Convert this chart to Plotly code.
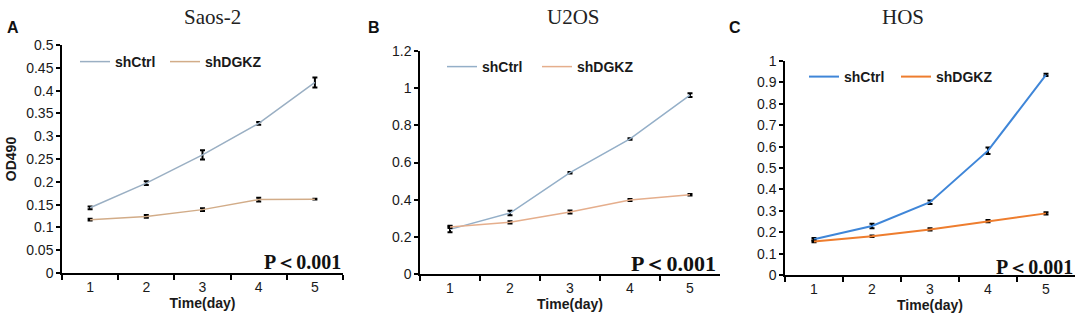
import plotly.graph_objects as go

days = ["1", "2", "3", "4", "5"]

saos_ctrl = [0.143, 0.197, 0.259, 0.328, 0.418]
saos_ctrl_err = [0.003, 0.004, 0.010, 0.003, 0.011]
saos_dgkz = [0.117, 0.124, 0.139, 0.161, 0.162]
saos_dgkz_err = [0.002, 0.003, 0.003, 0.004, 0.001]

u2os_ctrl = [0.240, 0.328, 0.545, 0.727, 0.963]
u2os_ctrl_err = [0.015, 0.012, 0.004, 0.004, 0.010]
u2os_dgkz = [0.253, 0.278, 0.334, 0.398, 0.427]
u2os_dgkz_err = [0.006, 0.006, 0.008, 0.005, 0.004]

hos_ctrl = [0.167, 0.229, 0.340, 0.581, 0.935]
hos_ctrl_err = [0.006, 0.010, 0.008, 0.015, 0.005]
hos_dgkz = [0.157, 0.181, 0.213, 0.252, 0.288]
hos_dgkz_err = [0.004, 0.004, 0.005, 0.005, 0.005]

titles = ["Saos-2", "U2OS", "HOS"]
letters = ["A", "B", "C"]
series_names = ["shCtrl", "shDGKZ"]

SANS = "Arial, Liberation Sans, sans-serif"
SERIF = "Times New Roman, Liberation Serif, serif"

panels = [
    dict(ctrl=saos_ctrl, ctrl_err=saos_ctrl_err, dgkz=saos_dgkz, dgkz_err=saos_dgkz_err,
         colors=("#9AAFC3", "#D2AC88"), lw=1.5, xdom=(62, 343), ybot=273, ytop=45,
         yrange=(0, 0.5), dtick=0.05),
    dict(ctrl=u2os_ctrl, ctrl_err=u2os_ctrl_err, dgkz=u2os_dgkz, dgkz_err=u2os_dgkz_err,
         colors=("#94AFC8", "#E5AE8C"), lw=1.5, xdom=(420, 720), ybot=274, ytop=51,
         yrange=(0, 1.2), dtick=0.2),
    dict(ctrl=hos_ctrl, ctrl_err=hos_ctrl_err, dgkz=hos_dgkz, dgkz_err=hos_dgkz_err,
         colors=("#3F86D8", "#EE7D2E"), lw=2, xdom=(785, 1075), ybot=275, ytop=61,
         yrange=(0, 1.0), dtick=0.1),
]

W, H = 1084, 324
fig = go.Figure()
annotations = []
# one legend per series: (left x, centre y) in pixels
legend_pos = [[(75, 62), (165, 62)], [(442, 67), (537, 67)], [(804, 77), (896, 77)]]
p_pos = [(343, 262, 20), (718, 263, 22), (1075, 267, 20)]

leg_idx = 0
for i, p in enumerate(panels):
    sfx = "" if i == 0 else str(i + 1)
    xa, ya = "x" + sfx, "y" + sfx
    for j, (name, vals, errs, col) in enumerate([
        (series_names[0], p["ctrl"], p["ctrl_err"], p["colors"][0]),
        (series_names[1], p["dgkz"], p["dgkz_err"], p["colors"][1]),
    ]):
        leg_idx += 1
        leg = "legend" if leg_idx == 1 else "legend" + str(leg_idx)
        fig.add_trace(go.Scatter(
            x=days, y=vals, mode="lines", name=name, xaxis=xa, yaxis=ya,
            line=dict(color=col, width=p["lw"]), legend=leg, showlegend=True,
            error_y=dict(type="data", array=errs, color="black", thickness=2, width=2.5),
        ))
        lx, ly = legend_pos[i][j]
        fig.update_layout(**{leg: dict(
            orientation="h", x=lx / W, y=1 - ly / H,
            xanchor="left", yanchor="middle", bgcolor="rgba(0,0,0,0)",
            font=dict(family=SANS, size=14, color="#1a1a1a", weight="bold"),
        )})
    x0, x1 = p["xdom"]
    fig.update_layout(**{
        "xaxis" + sfx: dict(
            domain=[x0 / W, x1 / W], anchor=ya, type="category", range=[-0.5, 4.5],
            tickson="boundaries", ticks="outside", ticklen=5, tickwidth=1.5, tickcolor="black",
            showline=True, linecolor="black", linewidth=1.5, showgrid=False, zeroline=False,
            automargin=False,
            tickfont=dict(family=SANS, size=14, color="#1a1a1a"),
            title=dict(text="<b>Time(day)</b>", font=dict(family=SANS, size=14, color="#1a1a1a"),
                       standoff=3),
        ),
        "yaxis" + sfx: dict(
            domain=[1 - p["ybot"] / H, 1 - p["ytop"] / H], anchor=xa, range=list(p["yrange"]),
            dtick=p["dtick"], tick0=0, ticks="outside", ticklen=4, tickwidth=1.5, tickcolor="black",
            showline=True, linecolor="black", linewidth=1.5, showgrid=False, zeroline=False,
            automargin=False,
            tickfont=dict(family=SANS, size=14, color="#1a1a1a"),
        ),
    })
    annotations.append(dict(text=titles[i], x=[212, 573, 903][i] / W, y=1 - 17 / H, xref="paper", yref="paper",
                            showarrow=False, font=dict(family=SERIF, size=21, color="#222"),
                            xanchor="center", yanchor="middle"))
    annotations.append(dict(text="<b>" + letters[i] + "</b>", x=[5, 366, 727][i] / W, y=1 - 28 / H,
                            xref="paper", yref="paper", showarrow=False,
                            font=dict(family=SANS, size=16, color="#111"),
                            xanchor="left", yanchor="middle"))
    px, py, ps = p_pos[i]
    annotations.append(dict(text="<b>P＜0.001</b>", x=px / W, y=1 - py / H, xref="paper", yref="paper",
                            showarrow=False, font=dict(family=SERIF, size=ps, color="#111"),
                            xanchor="right", yanchor="middle"))

fig.update_layout(
    showlegend=True,
    yaxis_title=dict(text="<b>OD490</b>", font=dict(family=SANS, size=14, color="#1a1a1a"), standoff=6),
    annotations=annotations,
    width=W, height=H, margin=dict(l=0, r=0, t=0, b=0, autoexpand=False),
    paper_bgcolor="white", plot_bgcolor="white",
)

fig.write_html("out.html", config={"displayModeBar": False},
               post_script="document.body.style.margin='0';document.body.style.padding='0';")
